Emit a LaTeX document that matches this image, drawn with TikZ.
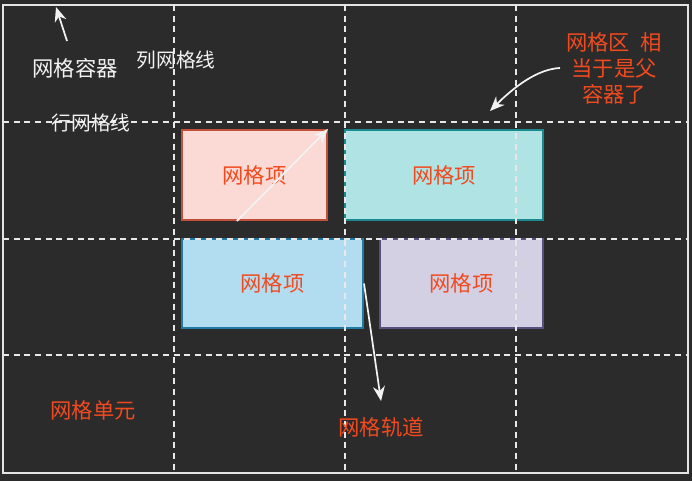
\documentclass[tikz,border=0pt]{standalone}
\usepackage{fontspec}
\setmainfont{Noto Sans CJK SC}
\usetikzlibrary{positioning,arrows.meta,calc}
\definecolor{bg}{HTML}{2B2B2B}
\definecolor{rim}{HTML}{E4E4E4}
\definecolor{gridln}{HTML}{E8E8E8}
\definecolor{whiteish}{HTML}{F2F2F2}
\definecolor{note}{HTML}{F24A1F}
\definecolor{pinkfill}{HTML}{FBD9D4}
\definecolor{pinkrim}{HTML}{C0503A}
\definecolor{tealfill}{HTML}{B0E3E3}
\definecolor{tealrim}{HTML}{1A8A8F}
\definecolor{bluefill}{HTML}{B2DDF0}
\definecolor{bluerim}{HTML}{1F7BA6}
\definecolor{lavfill}{HTML}{D3D0E4}
\definecolor{lavrim}{HTML}{5A5080}

\begin{document}
\begin{tikzpicture}[x=0.75pt, y=-0.75pt,
  gridline/.style={gridln, line width=1.5pt, dash pattern=on 4.5pt off 3.5pt},
  item/.style={draw, line width=1.5pt, inner sep=0pt},
  arr/.style={-{Stealth[length=11pt, width=9pt]}, draw=whiteish, line width=1.3pt},
  whitetext/.style={text=whiteish, font=\fontsize{14.8}{18}\selectfont},
  redtext/.style={text=note, font=\fontsize{16}{19.5}\selectfont, align=center}]
\useasboundingbox (0,0) rectangle (692,481);
\fill[bg] (0,0) rectangle (692,481);
\draw[rim, line width=1.8pt] (3,5) rectangle (688,473);

\node[item, fill=pinkfill, draw=pinkrim, minimum width=108.75pt, minimum height=67.5pt] (pink) at (254.5,175) {};
\node[item, fill=tealfill, draw=tealrim, minimum width=148.5pt, minimum height=67.5pt] (teal) at (444,175) {};
\node[item, fill=bluefill, draw=bluerim, minimum width=135.75pt, minimum height=66.75pt] (blue) at (272.5,283.5) {};
\node[item, fill=lavfill, draw=lavrim, minimum width=122.25pt, minimum height=66.75pt] (lav) at (461.5,283.5) {};

\foreach \x in {174,345,516} \draw[gridline] (\x,5) -- (\x,473);
\foreach \y in {122,239,355} \draw[gridline] (3,\y) -- (688,\y);

\foreach \itm in {pink,teal,blue,lav}
  \node[redtext] (\itm-text) at (\itm) {网格项};

\node[whitetext, font=\fontsize{16}{19}\selectfont] (container) at (75,68) {网格容器};
\node[whitetext] (colline) at (176,60) {列网格线};
\node[whitetext] (rowline) at (91,123) {行网格线};
\node[redtext] (area) at (614,68) {网格区\enspace 相\\当于是父\\容器了};
\node[redtext] (cell) at (93,410) {网格单元};
\node[redtext] (track) at (381,427) {网格轨道};

\coordinate (containerTail) at (67,41);
\coordinate (containerTip) at (56,7);
\coordinate (areaTail) at (560,68);
\coordinate (areaTip) at (490,111);
\coordinate (trackTip) at (381,401);

\draw[arr] (containerTail) -- (containerTip);
\draw[arr] (areaTail) .. controls (538,69) and (515,86) .. (areaTip);
\draw[arr] ($(pink.south west)!0.38!(pink.south east)$) -- (pink.north east);
\draw[arr] (blue.east) -- (trackTip);
\end{tikzpicture}
\end{document}
